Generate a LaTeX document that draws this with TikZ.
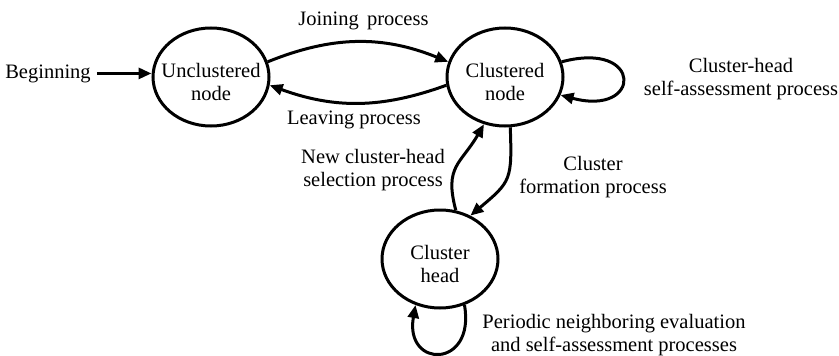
\documentclass[tikz,border=0pt]{standalone}
\usepackage{fontspec}
\setmainfont{Liberation Serif}
\usetikzlibrary{arrows.meta,shapes.geometric}
\begin{document}
\begin{tikzpicture}[x=1pt,y=-1pt,
  every node/.style={font=\fontsize{20.5}{23}\selectfont},
  state/.style={draw, ellipse, line width=3pt, inner xsep=-12pt, inner ysep=0pt,
    minimum width=116pt, minimum height=98pt, align=center},
  edge/.style={line width=3pt, -{Triangle[length=13pt,width=11pt]}},
  lbl/.style={align=center, inner sep=0pt, anchor=north}]
\useasboundingbox (0,0) rectangle (839,356);

% states
\node[state] (u) at (211,77)  {\rule{0pt}{25pt}Unclustered\\node};
\node[state] (c) at (505,77)  {\rule{0pt}{24pt}Clustered\\node};
\node[state] (h) at (440,259) {\rule{0pt}{24pt}Cluster\\head};

% entry point
\node[anchor=base, inner xsep=6pt, inner ysep=0pt] (b) at (48,78) {Beginning};
\draw[edge] (b.east) -- (b.east -| u.west);

% transitions
\draw[edge] (u.15) to[out=22,in=158] (c.165);
\draw[edge] (c.188) to[out=200,in=-20] (u.-8);
\draw[edge] (c.15) to[out=15,in=-15,looseness=6.5] (c.-18);
\draw[edge] (c.-84) to[out=-88,in=40,looseness=1.4] (h.55);
\draw[edge] (h.72) to[out=105,in=-120,looseness=1.3] (c.-114);
\draw[edge] (h.-62) to[out=-80,in=-100,looseness=3.4] (h.-118);

% transition labels
\node[lbl] (jl) at (363.5,12) {Joining\hspace{0.4em}process};
\node[lbl] (ll) at (354,111) {Leaving process};
\node[lbl] (sl) at (741,58) {Cluster-head\\self-assessment process};
\node[lbl] (nl) at (373,149) {New cluster-head\\selection process};
\node[lbl] (fl) at (593,156) {Cluster\\formation process};
\node[lbl] (pl) at (614,314) {Periodic neighboring evaluation\\and self-assessment processes};
\end{tikzpicture}
\end{document}
